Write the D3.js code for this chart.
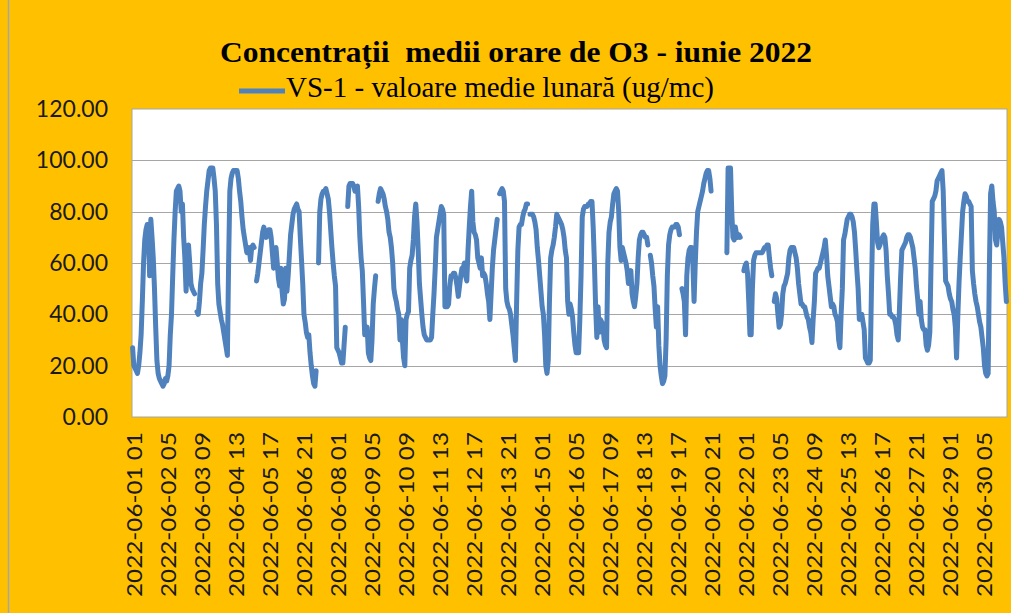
<!DOCTYPE html>
<html>
<head>
<meta charset="utf-8">
<script src="https://cdn.jsdelivr.net/npm/d3@7"></script>
<style>
  html, body { margin: 0; padding: 0; background: #FFC000; }
  svg { display: block; }
</style>
</head>
<body>
<div id="chart"></div>
<script>
// hourly O3 values, June 2022, one row per 24 hours (first point = 06-01 01)
var day01 = [27,20,19,18,17,20,25,32,45,60,69,73,75,74,55,77,70,62,50,35,22,17,15,14];
var day02 = [13,12,13,15,14,16,20,32,40,55,69,80,88,89,90,88,80,83,70,62,49,62,67,60];
var day03 = [52,50,49,48,null,41,40,45,52,56,65,75,82,88,92,96,97,97,97,93,88,75,52,44];
var day04 = [41,38,36,33,30,27,24,60,88,93,95,96,96,96,96,93,88,84,78,73,70,67,64,64];
var day05 = [66,61,66,67,66,null,53,56,60,64,68,72,74,71,70,72,73,73,70,64,58,62,66,60];
var day06 = [54,51,58,49,44,46,58,49,55,63,71,75,79,81,82,83,81,80,70,61,52,40,37,33];
var day07 = [31,32,25,20,16,13,12,18,null,60,80,85,87,88,88,89,87,85,80,73,66,60,55,51];
var day08 = [27,26,25,23,21,21,28,35,null,82,90,91,91,91,90,88,89,90,82,70,62,57,45,32];
var day09 = [33,35,25,23,22,30,44,50,55,null,84,87,89,88,87,85,82,80,77,72,70,66,60,50];
var day10 = [47,45,42,40,30,38,30,23,20,38,40,41,58,61,63,69,78,83,76,65,52,46,40,35];
var day11 = [32,31,30,30,30,30,31,40,48,58,70,73,76,79,82,81,79,43,43,43,44,51,55,55];
var day12 = [56,56,54,51,47,51,55,58,58,60,55,53,65,74,82,88,76,72,71,69,62,60,58,62];
var day13 = [55,56,55,52,48,45,38,48,58,65,69,73,77,null,87,88,89,88,84,50,45,43,42,40];
var day14 = [36,32,27,22,45,65,74,75,75,78,80,81,83,83,null,79,79,79,78,76,73,66,61,55];
var day15 = [49,43,40,32,20,17,22,45,62,65,67,70,74,79,78,77,76,75,73,70,65,62,45,40];
var day16 = [44,42,39,33,28,25,25,25,38,55,78,81,82,82,82,83,83,84,84,74,60,43,31,43];
var day17 = [33,38,37,36,30,28,27,60,72,76,78,83,87,88,89,88,80,66,61,66,64,62,60,57];
var day18 = [52,56,57,48,45,43,47,52,62,69,71,72,72,71,70,70,67,null,63,60,55,51,42,35];
var day19 = [43,28,20,16,13,14,16,30,55,67,71,73,74,74,74,75,75,74,71,null,50,48,45,32];
var day20 = [55,62,65,66,66,60,45,60,72,80,82,84,86,88,91,93,95,96,96,93,88,null,null,null];
var day21 = [null,null,null,null,null,null,null,null,null,64,97,97,97,80,70,69,74,71,70,71,70,null,null,57];
var day22 = [59,60,56,45,32,32,50,61,63,64,64,64,64,64,64,65,66,66,67,67,62,58,55,null];
var day23 = [45,48,46,40,35,36,40,48,51,52,54,56,62,65,66,66,66,64,62,58,52,48,44,44];
var day24 = [43,43,41,39,38,35,33,29,38,45,56,57,58,58,60,62,64,66,69,63,55,51,47,43];
var day25 = [44,43,40,39,37,30,27,40,50,69,71,74,77,78,79,79,78,76,72,65,57,50,38,39];
var day26 = [40,37,34,23,22,21,21,22,51,75,83,83,76,68,66,67,69,70,71,70,65,55,48,40];
var day27 = [40,39,39,38,36,32,30,42,55,65,66,67,68,70,71,71,70,68,66,62,58,51,46,40];
var day28 = [45,38,35,34,34,28,26,28,33,60,84,85,86,88,92,93,94,95,96,88,70,53,52,51];
var day29 = [48,46,45,42,40,35,23,39,52,62,71,80,84,87,86,84,84,83,82,57,52,48,45,43];
var day30 = [40,37,35,31,27,20,17,16,17,58,87,90,84,80,69,67,72,77,76,74,68,62,52,45];

var yTicks = [0, 20, 40, 60, 80, 100, 120];
var labelStep = 28;
var titleText = "Concentrații  medii orare de O3 - iunie 2022";
var legendText = "VS-1 - valoare medie lunară (ug/mc)";

var values = [].concat(day01, day02, day03, day04, day05, day06, day07, day08, day09, day10,
    day11, day12, day13, day14, day15, day16, day17, day18, day19, day20,
    day21, day22, day23, day24, day25, day26, day27, day28, day29, day30);

// category labels "2022-06-DD HH"
function pad(n) { return (n < 10 ? "0" : "") + n; }
var categories = values.map(function(v, i) {
    var h = i + 1;
    return "2022-06-" + pad(Math.floor(h / 24) + 1) + " " + pad(h % 24);
});

var width = 1011,
    height = 613,
    plotL = 132, plotR = 1007, plotT = 109, plotB = 417;

var labelFont = "Lato, 'Open Sans', sans-serif";
var serifFont = "'Liberation Serif', 'Times New Roman', serif";

var svg = d3.select("#chart").append("svg")
    .attr("width", width)
    .attr("height", height);

svg.append("rect")
    .attr("width", width).attr("height", height)
    .attr("fill", "#FFC000");

// chart frame (left edge visible)
svg.append("line")
    .attr("x1", 8.5).attr("x2", 8.5).attr("y1", 0).attr("y2", height)
    .attr("stroke", "#A6A6A6").attr("stroke-width", 1.5);

var x = d3.scaleBand()
    .domain(d3.range(values.length))
    .range([plotL, plotR]);

var y = d3.scaleLinear()
    .domain([0, 120])
    .range([plotB, plotT]);

svg.append("rect")
    .attr("x", plotL).attr("y", plotT)
    .attr("width", plotR - plotL).attr("height", plotB - plotT)
    .attr("fill", "white")
    .attr("stroke", "#A6A6A6");

// gridlines
svg.append("g")
    .selectAll("line")
    .data(yTicks.slice(1, -1))
    .enter().append("line")
    .attr("x1", plotL).attr("x2", plotR)
    .attr("y1", function(d) { return Math.round(y(d)) + 0.5; })
    .attr("y2", function(d) { return Math.round(y(d)) + 0.5; })
    .attr("stroke", "#A6A6A6");

// y axis labels
var yAxis = d3.axisLeft(y)
    .tickValues(yTicks)
    .tickSize(0)
    .tickPadding(24)
    .tickFormat(d3.format(".2f"));

svg.append("g")
    .attr("transform", "translate(" + plotL + ",0)")
    .call(yAxis)
    .call(function(g) { g.select(".domain").remove(); })
    .selectAll("text")
    .style("font-family", labelFont)
    .style("font-size", "23px")
    .attr("fill", "#1A1A1A");

// x axis labels, every 28th category, rotated
var xAxis = d3.axisBottom(x)
    .tickValues(d3.range(0, values.length, labelStep))
    .tickSize(0)
    .tickFormat(function(i) { return categories[i]; });

svg.append("g")
    .attr("transform", "translate(0," + plotB + ")")
    .call(xAxis)
    .call(function(g) { g.select(".domain").remove(); })
    .selectAll("text")
    .style("font-family", labelFont)
    .style("font-size", "22px")
    .attr("fill", "#1A1A1A")
    .attr("text-anchor", "end")
    .attr("textLength", 165)
    .attr("lengthAdjust", "spacingAndGlyphs")
    .attr("dy", "0.36em")
    .attr("transform", "translate(1,15) rotate(-90)")
    .attr("x", 0).attr("y", 0);

// the series
var line = d3.line()
    .defined(function(d) { return d != null; })
    .x(function(d, i) { return x(i) + x.bandwidth() / 2; })
    .y(function(d) { return y(d); });

svg.append("path")
    .datum(values)
    .attr("d", line)
    .attr("fill", "none")
    .attr("stroke", "#4F81BD")
    .attr("stroke-width", 5)
    .attr("stroke-linejoin", "round")
    .attr("stroke-linecap", "round");

// title and legend
svg.append("text")
    .attr("x", 516).attr("y", 62)
    .attr("text-anchor", "middle")
    .style("font-family", serifFont)
    .style("font-weight", "bold")
    .style("font-size", "30px")
    .style("white-space", "pre")
    .attr("textLength", 592)
    .attr("lengthAdjust", "spacingAndGlyphs")
    .text(titleText);

svg.append("line")
    .attr("x1", 239).attr("x2", 285)
    .attr("y1", 91).attr("y2", 91)
    .attr("stroke", "#4F81BD")
    .attr("stroke-width", 5);

svg.append("text")
    .attr("x", 286).attr("y", 97)
    .style("font-family", serifFont)
    .style("font-size", "29px")
    .attr("textLength", 428)
    .attr("lengthAdjust", "spacingAndGlyphs")
    .text(legendText);
</script>
</body>
</html>
